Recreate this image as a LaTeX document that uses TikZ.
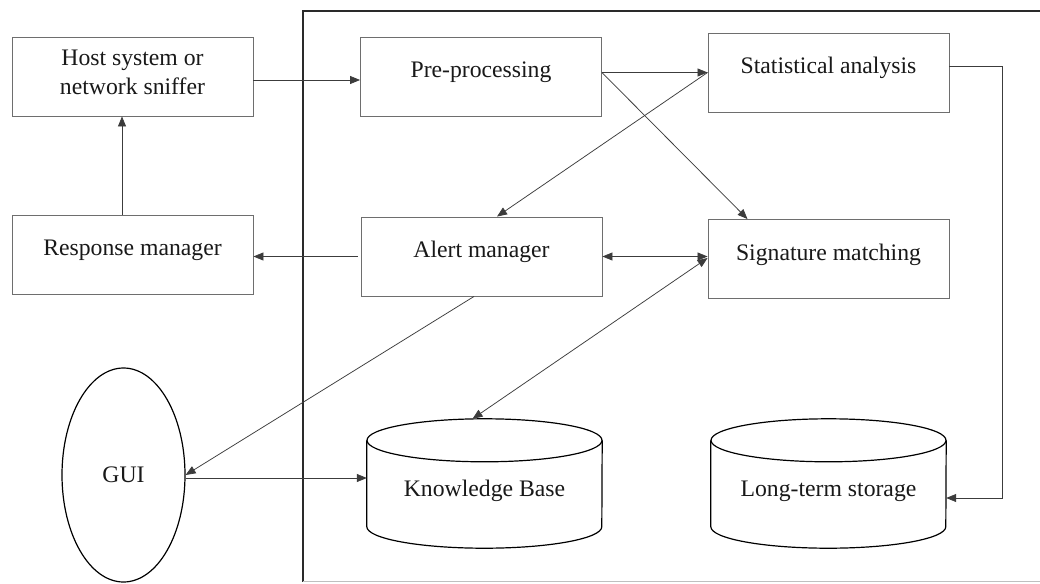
\documentclass[tikz,border=0pt]{standalone}
\usepackage{fontspec}
\setmainfont{Liberation Serif}
\usetikzlibrary{arrows.meta,shapes.geometric}
\definecolor{boxgray}{HTML}{6E6E6E}
\definecolor{linegray}{HTML}{3C3C3C}
\definecolor{framegray}{HTML}{2A2A2A}
\begin{document}
\begin{tikzpicture}[x=1pt,y=1pt,
  lbl/.style={font=\fontsize{23.7}{29}\selectfont, text=black!90},
  procbox/.style={lbl, draw=boxgray, line width=0.9pt, rectangle, minimum width=241pt, minimum height=79pt, inner sep=0pt, text height=14pt, text depth=12pt},
  store/.style={rectangle, minimum width=235pt, minimum height=129pt, inner sep=0pt},
  cylline/.style={draw=black, line width=1.2pt},
  conn/.style={draw=linegray, line width=0.75pt},
  arr/.style={conn, -{Triangle[length=10pt,width=8pt]}},
  darr/.style={conn, {Triangle[length=10pt,width=8pt]}-{Triangle[length=10pt,width=8pt]}}
]
\useasboundingbox (0,0) rectangle (1040,-583);
\fill[white] (0,0) rectangle (1040,-583);

% frame
\draw[framegray, line width=1.5pt] (1045,-11) -- (303,-11) -- (303,-581.5);
\draw[black!25, line width=1pt] (303,-581.5) -- (1045,-581.5);

% boxes
\node[procbox, text height=45pt, text depth=8pt, align=center] (host) at (132.5,-76.5) {Host system or\\network sniffer};
\node[procbox] (pre) at (481,-76.5) {Pre-processing};
\node[procbox] (stat) at (828.5,-72.5) {Statistical analysis};
\node[procbox] (resp) at (132.5,-254.5) {Response manager};
\node[procbox] (alert) at (481.5,-256.5) {Alert manager};
\node[procbox] (sig) at (828.5,-259) {Signature matching};

% GUI
\node[ellipse, draw=black, line width=1.2pt, minimum width=123pt, minimum height=214pt, inner sep=0pt, lbl] (gui) at (123.5,-475) {GUI};

% storage cylinders
\node[store] (kb) at (484.5,-483.5) {};
\node[store] (lts) at (828.5,-483.5) {};
\foreach \c in {kb,lts}{
  \draw[cylline] ([yshift=-21.5pt]\c.north west) -- ([yshift=21.5pt]\c.south west)
     arc[start angle=180, end angle=360, x radius=117.5, y radius=21.5]
     -- ([yshift=-21.5pt]\c.north east);
  \draw[cylline] ([yshift=-21.5pt]\c.north) ellipse[x radius=117.5, y radius=21.5];
}
\node[lbl, text height=14pt, text depth=12pt] (kbt) at ([yshift=-12pt]kb.center) {Knowledge Base};
\node[lbl, text height=14pt, text depth=12pt] (ltst) at ([yshift=-12pt]lts.center) {Long-term storage};

% connectors
\draw[arr] ([yshift=-3.5pt]host.east) -- ([yshift=-3.5pt]pre.west);
\draw[arr] ([yshift=4pt]pre.east) -- (stat.west);
\draw[arr] ([yshift=4pt]pre.east) -- ([xshift=-81pt]sig.north);
\draw[arr] (stat.west) -- ([xshift=15.5pt]alert.north);
\draw[arr] ([xshift=-3pt]alert.west) -- (alert.west -| resp.east);
\draw[darr] (alert.east) -- (alert.east -| sig.west);
\draw[darr] ([xshift=-12pt]kb.north) -- ([yshift=1pt]sig.west);
\draw[arr] ([xshift=-7.5pt]alert.south) -- (gui.east);
\draw[arr] ([yshift=-3pt]gui.east) -- ([yshift=-3pt]gui.east -| kb.west);
\draw[arr] ([yshift=6.5pt]stat.east) -- ++(53,0) |- ([yshift=-14.5pt]lts.east);
\draw[arr] ([xshift=-10.5pt]resp.north) -- ([xshift=-10.5pt]host.south);
\end{tikzpicture}
\end{document}
